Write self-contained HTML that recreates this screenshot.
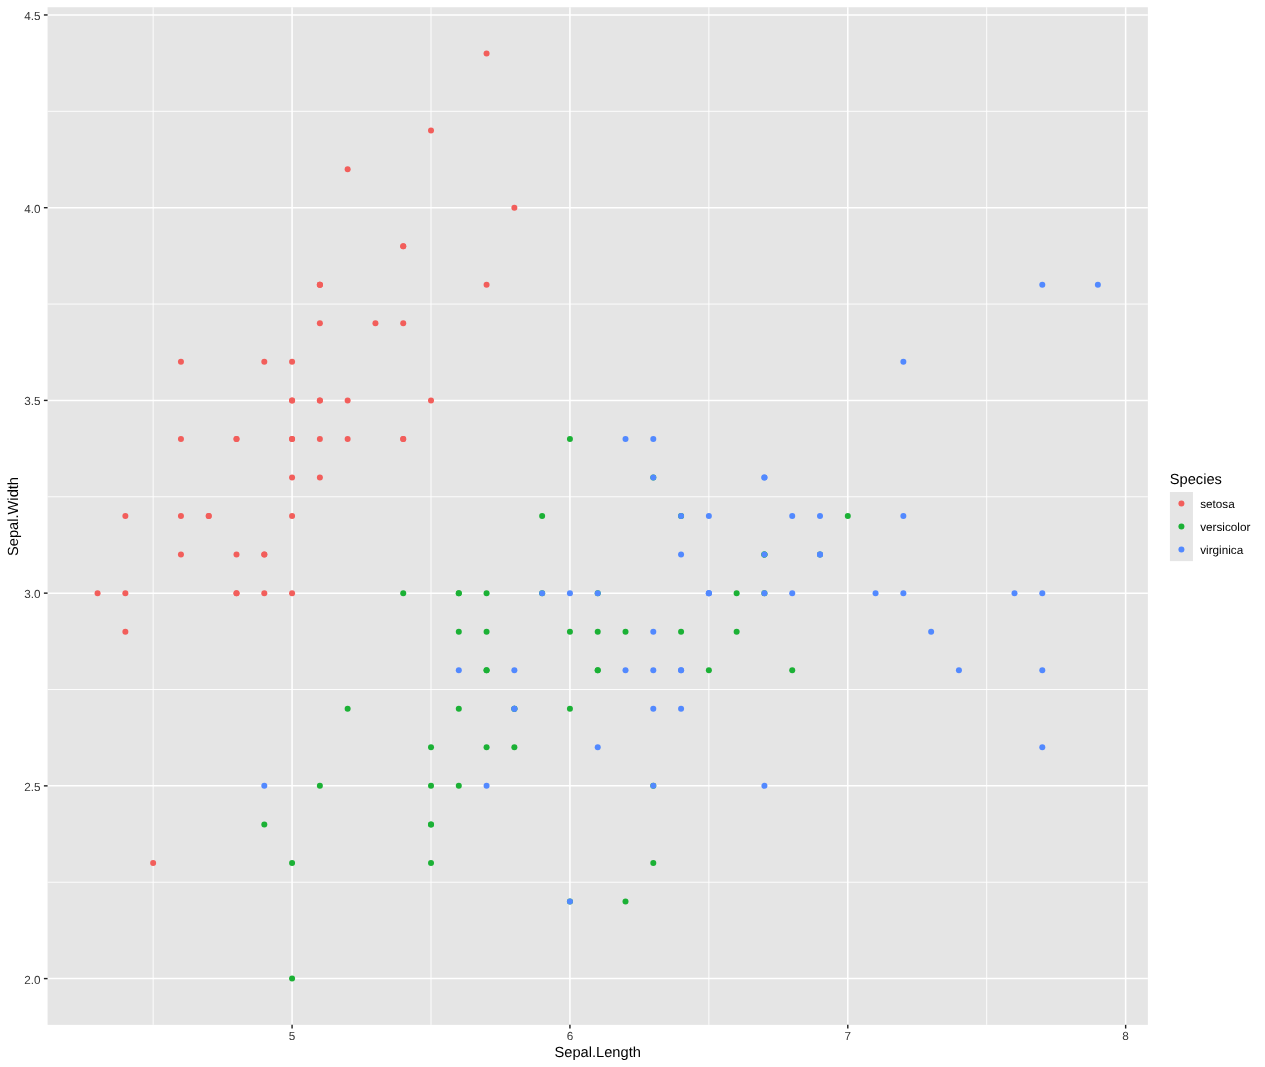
<!DOCTYPE html>
<html><head><meta charset="utf-8"><style>
html,body{margin:0;padding:0;background:#fff;}
svg{display:block;will-change:transform;}
text{font-family:"Liberation Sans",sans-serif;text-rendering:geometricPrecision;}
.ax{font-size:11.73px;fill:#383838;}
.ti{font-size:14.67px;fill:#000;}
.lg{font-size:11.73px;fill:#000;}
</style></head><body>
<svg width="1265" height="1067" viewBox="0 0 1265 1067">
<rect width="1265" height="1067" fill="#fff"/>
<rect x="47.57" y="7.25" width="1100.30" height="1017.60" fill="#E5E5E5"/>
<line x1="47.57" x2="1147.87" y1="882.23" y2="882.23" stroke="#fff" stroke-width="0.9"/>
<line x1="47.57" x2="1147.87" y1="689.50" y2="689.50" stroke="#fff" stroke-width="0.9"/>
<line x1="47.57" x2="1147.87" y1="496.78" y2="496.78" stroke="#fff" stroke-width="0.9"/>
<line x1="47.57" x2="1147.87" y1="304.05" y2="304.05" stroke="#fff" stroke-width="0.9"/>
<line x1="47.57" x2="1147.87" y1="111.32" y2="111.32" stroke="#fff" stroke-width="0.9"/>
<line y1="7.25" y2="1024.85" x1="153.15" x2="153.15" stroke="#fff" stroke-width="0.9"/>
<line y1="7.25" y2="1024.85" x1="431.01" x2="431.01" stroke="#fff" stroke-width="0.9"/>
<line y1="7.25" y2="1024.85" x1="708.86" x2="708.86" stroke="#fff" stroke-width="0.9"/>
<line y1="7.25" y2="1024.85" x1="986.71" x2="986.71" stroke="#fff" stroke-width="0.9"/>
<line x1="47.57" x2="1147.87" y1="978.60" y2="978.60" stroke="#fff" stroke-width="1.5"/>
<line x1="47.57" x2="1147.87" y1="785.87" y2="785.87" stroke="#fff" stroke-width="1.5"/>
<line x1="47.57" x2="1147.87" y1="593.14" y2="593.14" stroke="#fff" stroke-width="1.5"/>
<line x1="47.57" x2="1147.87" y1="400.41" y2="400.41" stroke="#fff" stroke-width="1.5"/>
<line x1="47.57" x2="1147.87" y1="207.69" y2="207.69" stroke="#fff" stroke-width="1.5"/>
<line x1="47.57" x2="1147.87" y1="14.96" y2="14.96" stroke="#fff" stroke-width="1.5"/>
<line y1="7.25" y2="1024.85" x1="292.08" x2="292.08" stroke="#fff" stroke-width="1.5"/>
<line y1="7.25" y2="1024.85" x1="569.93" x2="569.93" stroke="#fff" stroke-width="1.5"/>
<line y1="7.25" y2="1024.85" x1="847.79" x2="847.79" stroke="#fff" stroke-width="1.5"/>
<line y1="7.25" y2="1024.85" x1="1125.64" x2="1125.64" stroke="#fff" stroke-width="1.5"/>
<circle cx="319.87" cy="400.41" r="3.0" fill="#F25E5B"/>
<circle cx="264.30" cy="593.14" r="3.0" fill="#F25E5B"/>
<circle cx="208.73" cy="516.05" r="3.0" fill="#F25E5B"/>
<circle cx="180.94" cy="554.60" r="3.0" fill="#F25E5B"/>
<circle cx="292.08" cy="361.87" r="3.0" fill="#F25E5B"/>
<circle cx="403.22" cy="246.23" r="3.0" fill="#F25E5B"/>
<circle cx="180.94" cy="438.96" r="3.0" fill="#F25E5B"/>
<circle cx="292.08" cy="438.96" r="3.0" fill="#F25E5B"/>
<circle cx="125.37" cy="631.69" r="3.0" fill="#F25E5B"/>
<circle cx="264.30" cy="554.60" r="3.0" fill="#F25E5B"/>
<circle cx="403.22" cy="323.32" r="3.0" fill="#F25E5B"/>
<circle cx="236.51" cy="438.96" r="3.0" fill="#F25E5B"/>
<circle cx="236.51" cy="593.14" r="3.0" fill="#F25E5B"/>
<circle cx="97.58" cy="593.14" r="3.0" fill="#F25E5B"/>
<circle cx="514.36" cy="207.69" r="3.0" fill="#F25E5B"/>
<circle cx="486.58" cy="53.50" r="3.0" fill="#F25E5B"/>
<circle cx="403.22" cy="246.23" r="3.0" fill="#F25E5B"/>
<circle cx="319.87" cy="400.41" r="3.0" fill="#F25E5B"/>
<circle cx="486.58" cy="284.78" r="3.0" fill="#F25E5B"/>
<circle cx="319.87" cy="284.78" r="3.0" fill="#F25E5B"/>
<circle cx="403.22" cy="438.96" r="3.0" fill="#F25E5B"/>
<circle cx="319.87" cy="323.32" r="3.0" fill="#F25E5B"/>
<circle cx="180.94" cy="361.87" r="3.0" fill="#F25E5B"/>
<circle cx="319.87" cy="477.50" r="3.0" fill="#F25E5B"/>
<circle cx="236.51" cy="438.96" r="3.0" fill="#F25E5B"/>
<circle cx="292.08" cy="593.14" r="3.0" fill="#F25E5B"/>
<circle cx="292.08" cy="438.96" r="3.0" fill="#F25E5B"/>
<circle cx="347.65" cy="400.41" r="3.0" fill="#F25E5B"/>
<circle cx="347.65" cy="438.96" r="3.0" fill="#F25E5B"/>
<circle cx="208.73" cy="516.05" r="3.0" fill="#F25E5B"/>
<circle cx="236.51" cy="554.60" r="3.0" fill="#F25E5B"/>
<circle cx="403.22" cy="438.96" r="3.0" fill="#F25E5B"/>
<circle cx="347.65" cy="169.14" r="3.0" fill="#F25E5B"/>
<circle cx="431.01" cy="130.60" r="3.0" fill="#F25E5B"/>
<circle cx="264.30" cy="554.60" r="3.0" fill="#F25E5B"/>
<circle cx="292.08" cy="516.05" r="3.0" fill="#F25E5B"/>
<circle cx="431.01" cy="400.41" r="3.0" fill="#F25E5B"/>
<circle cx="264.30" cy="361.87" r="3.0" fill="#F25E5B"/>
<circle cx="125.37" cy="593.14" r="3.0" fill="#F25E5B"/>
<circle cx="319.87" cy="438.96" r="3.0" fill="#F25E5B"/>
<circle cx="292.08" cy="400.41" r="3.0" fill="#F25E5B"/>
<circle cx="153.15" cy="862.96" r="3.0" fill="#F25E5B"/>
<circle cx="125.37" cy="516.05" r="3.0" fill="#F25E5B"/>
<circle cx="292.08" cy="400.41" r="3.0" fill="#F25E5B"/>
<circle cx="319.87" cy="284.78" r="3.0" fill="#F25E5B"/>
<circle cx="236.51" cy="593.14" r="3.0" fill="#F25E5B"/>
<circle cx="319.87" cy="284.78" r="3.0" fill="#F25E5B"/>
<circle cx="180.94" cy="516.05" r="3.0" fill="#F25E5B"/>
<circle cx="375.44" cy="323.32" r="3.0" fill="#F25E5B"/>
<circle cx="292.08" cy="477.50" r="3.0" fill="#F25E5B"/>
<circle cx="847.79" cy="516.05" r="3.0" fill="#1BB135"/>
<circle cx="681.08" cy="516.05" r="3.0" fill="#1BB135"/>
<circle cx="820.00" cy="554.60" r="3.0" fill="#1BB135"/>
<circle cx="431.01" cy="862.96" r="3.0" fill="#1BB135"/>
<circle cx="708.86" cy="670.23" r="3.0" fill="#1BB135"/>
<circle cx="486.58" cy="670.23" r="3.0" fill="#1BB135"/>
<circle cx="653.29" cy="477.50" r="3.0" fill="#1BB135"/>
<circle cx="264.30" cy="824.41" r="3.0" fill="#1BB135"/>
<circle cx="736.65" cy="631.69" r="3.0" fill="#1BB135"/>
<circle cx="347.65" cy="708.78" r="3.0" fill="#1BB135"/>
<circle cx="292.08" cy="978.60" r="3.0" fill="#1BB135"/>
<circle cx="542.15" cy="593.14" r="3.0" fill="#1BB135"/>
<circle cx="569.93" cy="901.50" r="3.0" fill="#1BB135"/>
<circle cx="597.72" cy="631.69" r="3.0" fill="#1BB135"/>
<circle cx="458.79" cy="631.69" r="3.0" fill="#1BB135"/>
<circle cx="764.43" cy="554.60" r="3.0" fill="#1BB135"/>
<circle cx="458.79" cy="593.14" r="3.0" fill="#1BB135"/>
<circle cx="514.36" cy="708.78" r="3.0" fill="#1BB135"/>
<circle cx="625.51" cy="901.50" r="3.0" fill="#1BB135"/>
<circle cx="458.79" cy="785.87" r="3.0" fill="#1BB135"/>
<circle cx="542.15" cy="516.05" r="3.0" fill="#1BB135"/>
<circle cx="597.72" cy="670.23" r="3.0" fill="#1BB135"/>
<circle cx="653.29" cy="785.87" r="3.0" fill="#1BB135"/>
<circle cx="597.72" cy="670.23" r="3.0" fill="#1BB135"/>
<circle cx="681.08" cy="631.69" r="3.0" fill="#1BB135"/>
<circle cx="736.65" cy="593.14" r="3.0" fill="#1BB135"/>
<circle cx="792.22" cy="670.23" r="3.0" fill="#1BB135"/>
<circle cx="764.43" cy="593.14" r="3.0" fill="#1BB135"/>
<circle cx="569.93" cy="631.69" r="3.0" fill="#1BB135"/>
<circle cx="486.58" cy="747.32" r="3.0" fill="#1BB135"/>
<circle cx="431.01" cy="824.41" r="3.0" fill="#1BB135"/>
<circle cx="431.01" cy="824.41" r="3.0" fill="#1BB135"/>
<circle cx="514.36" cy="708.78" r="3.0" fill="#1BB135"/>
<circle cx="569.93" cy="708.78" r="3.0" fill="#1BB135"/>
<circle cx="403.22" cy="593.14" r="3.0" fill="#1BB135"/>
<circle cx="569.93" cy="438.96" r="3.0" fill="#1BB135"/>
<circle cx="764.43" cy="554.60" r="3.0" fill="#1BB135"/>
<circle cx="653.29" cy="862.96" r="3.0" fill="#1BB135"/>
<circle cx="458.79" cy="593.14" r="3.0" fill="#1BB135"/>
<circle cx="431.01" cy="785.87" r="3.0" fill="#1BB135"/>
<circle cx="431.01" cy="747.32" r="3.0" fill="#1BB135"/>
<circle cx="597.72" cy="593.14" r="3.0" fill="#1BB135"/>
<circle cx="514.36" cy="747.32" r="3.0" fill="#1BB135"/>
<circle cx="292.08" cy="862.96" r="3.0" fill="#1BB135"/>
<circle cx="458.79" cy="708.78" r="3.0" fill="#1BB135"/>
<circle cx="486.58" cy="593.14" r="3.0" fill="#1BB135"/>
<circle cx="486.58" cy="631.69" r="3.0" fill="#1BB135"/>
<circle cx="625.51" cy="631.69" r="3.0" fill="#1BB135"/>
<circle cx="319.87" cy="785.87" r="3.0" fill="#1BB135"/>
<circle cx="486.58" cy="670.23" r="3.0" fill="#1BB135"/>
<circle cx="653.29" cy="477.50" r="3.0" fill="#5289FF"/>
<circle cx="514.36" cy="708.78" r="3.0" fill="#5289FF"/>
<circle cx="875.57" cy="593.14" r="3.0" fill="#5289FF"/>
<circle cx="653.29" cy="631.69" r="3.0" fill="#5289FF"/>
<circle cx="708.86" cy="593.14" r="3.0" fill="#5289FF"/>
<circle cx="1014.50" cy="593.14" r="3.0" fill="#5289FF"/>
<circle cx="264.30" cy="785.87" r="3.0" fill="#5289FF"/>
<circle cx="931.14" cy="631.69" r="3.0" fill="#5289FF"/>
<circle cx="764.43" cy="785.87" r="3.0" fill="#5289FF"/>
<circle cx="903.36" cy="361.87" r="3.0" fill="#5289FF"/>
<circle cx="708.86" cy="516.05" r="3.0" fill="#5289FF"/>
<circle cx="681.08" cy="708.78" r="3.0" fill="#5289FF"/>
<circle cx="792.22" cy="593.14" r="3.0" fill="#5289FF"/>
<circle cx="486.58" cy="785.87" r="3.0" fill="#5289FF"/>
<circle cx="514.36" cy="670.23" r="3.0" fill="#5289FF"/>
<circle cx="681.08" cy="516.05" r="3.0" fill="#5289FF"/>
<circle cx="708.86" cy="593.14" r="3.0" fill="#5289FF"/>
<circle cx="1042.29" cy="284.78" r="3.0" fill="#5289FF"/>
<circle cx="1042.29" cy="747.32" r="3.0" fill="#5289FF"/>
<circle cx="569.93" cy="901.50" r="3.0" fill="#5289FF"/>
<circle cx="820.00" cy="516.05" r="3.0" fill="#5289FF"/>
<circle cx="458.79" cy="670.23" r="3.0" fill="#5289FF"/>
<circle cx="1042.29" cy="670.23" r="3.0" fill="#5289FF"/>
<circle cx="653.29" cy="708.78" r="3.0" fill="#5289FF"/>
<circle cx="764.43" cy="477.50" r="3.0" fill="#5289FF"/>
<circle cx="903.36" cy="516.05" r="3.0" fill="#5289FF"/>
<circle cx="625.51" cy="670.23" r="3.0" fill="#5289FF"/>
<circle cx="597.72" cy="593.14" r="3.0" fill="#5289FF"/>
<circle cx="681.08" cy="670.23" r="3.0" fill="#5289FF"/>
<circle cx="903.36" cy="593.14" r="3.0" fill="#5289FF"/>
<circle cx="958.93" cy="670.23" r="3.0" fill="#5289FF"/>
<circle cx="1097.86" cy="284.78" r="3.0" fill="#5289FF"/>
<circle cx="681.08" cy="670.23" r="3.0" fill="#5289FF"/>
<circle cx="653.29" cy="670.23" r="3.0" fill="#5289FF"/>
<circle cx="597.72" cy="747.32" r="3.0" fill="#5289FF"/>
<circle cx="1042.29" cy="593.14" r="3.0" fill="#5289FF"/>
<circle cx="653.29" cy="438.96" r="3.0" fill="#5289FF"/>
<circle cx="681.08" cy="554.60" r="3.0" fill="#5289FF"/>
<circle cx="569.93" cy="593.14" r="3.0" fill="#5289FF"/>
<circle cx="820.00" cy="554.60" r="3.0" fill="#5289FF"/>
<circle cx="764.43" cy="554.60" r="3.0" fill="#5289FF"/>
<circle cx="820.00" cy="554.60" r="3.0" fill="#5289FF"/>
<circle cx="514.36" cy="708.78" r="3.0" fill="#5289FF"/>
<circle cx="792.22" cy="516.05" r="3.0" fill="#5289FF"/>
<circle cx="764.43" cy="477.50" r="3.0" fill="#5289FF"/>
<circle cx="764.43" cy="593.14" r="3.0" fill="#5289FF"/>
<circle cx="653.29" cy="785.87" r="3.0" fill="#5289FF"/>
<circle cx="708.86" cy="593.14" r="3.0" fill="#5289FF"/>
<circle cx="625.51" cy="438.96" r="3.0" fill="#5289FF"/>
<circle cx="542.15" cy="593.14" r="3.0" fill="#5289FF"/>
<line x1="43.90" x2="47.57" y1="978.60" y2="978.60" stroke="#222" stroke-width="1.42"/>
<text x="40.50" y="983.50" text-anchor="end" class="ax">2.0</text>
<line x1="43.90" x2="47.57" y1="785.87" y2="785.87" stroke="#222" stroke-width="1.42"/>
<text x="40.50" y="790.77" text-anchor="end" class="ax">2.5</text>
<line x1="43.90" x2="47.57" y1="593.14" y2="593.14" stroke="#222" stroke-width="1.42"/>
<text x="40.50" y="598.04" text-anchor="end" class="ax">3.0</text>
<line x1="43.90" x2="47.57" y1="400.41" y2="400.41" stroke="#222" stroke-width="1.42"/>
<text x="40.50" y="405.31" text-anchor="end" class="ax">3.5</text>
<line x1="43.90" x2="47.57" y1="207.69" y2="207.69" stroke="#222" stroke-width="1.42"/>
<text x="40.50" y="212.59" text-anchor="end" class="ax">4.0</text>
<line x1="43.90" x2="47.57" y1="14.96" y2="14.96" stroke="#222" stroke-width="1.42"/>
<text x="40.50" y="19.86" text-anchor="end" class="ax">4.5</text>
<line y1="1024.85" y2="1028.52" x1="292.08" x2="292.08" stroke="#222" stroke-width="1.42"/>
<text x="292.08" y="1040.1" text-anchor="middle" class="ax">5</text>
<line y1="1024.85" y2="1028.52" x1="569.93" x2="569.93" stroke="#222" stroke-width="1.42"/>
<text x="569.93" y="1040.1" text-anchor="middle" class="ax">6</text>
<line y1="1024.85" y2="1028.52" x1="847.79" x2="847.79" stroke="#222" stroke-width="1.42"/>
<text x="847.79" y="1040.1" text-anchor="middle" class="ax">7</text>
<line y1="1024.85" y2="1028.52" x1="1125.64" x2="1125.64" stroke="#222" stroke-width="1.42"/>
<text x="1125.64" y="1040.1" text-anchor="middle" class="ax">8</text>
<text x="597.72" y="1057" text-anchor="middle" class="ti">Sepal.Length</text>
<text transform="translate(18.0 516.50) rotate(-90)" text-anchor="middle" class="ti">Sepal.Width</text>
<text x="1169.8" y="484.2" class="ti">Species</text>
<rect x="1169.9" y="492.0" width="23.04" height="69.12" fill="#E5E5E5"/>
<circle cx="1181.42" cy="503.52" r="3.0" fill="#F25E5B"/>
<text x="1200.2" y="508.12" class="lg">setosa</text>
<circle cx="1181.42" cy="526.56" r="3.0" fill="#1BB135"/>
<text x="1200.2" y="531.16" class="lg">versicolor</text>
<circle cx="1181.42" cy="549.60" r="3.0" fill="#5289FF"/>
<text x="1200.2" y="554.20" class="lg">virginica</text>
</svg></body></html>
